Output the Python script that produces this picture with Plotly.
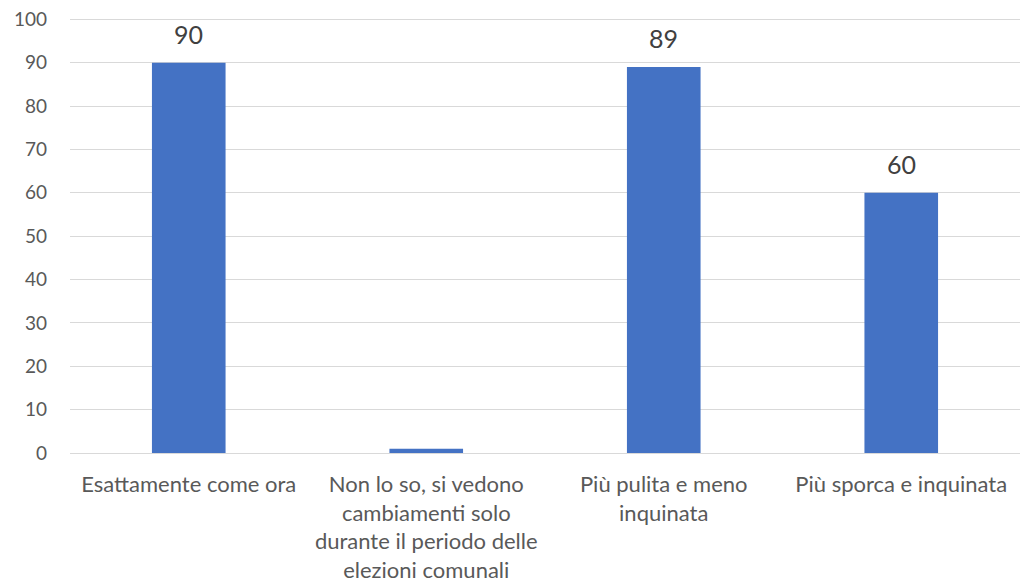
import plotly.graph_objects as go

categories = [
    "Esattamente come ora",
    "Non lo so, si vedono<br>cambiamenti solo<br>durante il periodo delle<br>elezioni comunali",
    "Più pulita e meno<br>inquinata",
    "Più sporca e inquinata",
]
values = [90, 1, 89, 60]
value_labels = ["90", "", "89", "60"]
y_ticks = [0, 10, 20, 30, 40, 50, 60, 70, 80, 90, 100]

FONT = "Lato, Carlito, Calibri, sans-serif"

xs = list(range(len(categories)))

fig = go.Figure(
    go.Bar(
        x=xs,
        y=values,
        marker=dict(color="#4472C4", line=dict(width=0)),
        width=0.31,
        hoverinfo="x+y",
    )
)

for x, v, lab in zip(xs, values, value_labels):
    if lab:
        fig.add_annotation(
            x=x, y=v, xref="x", yref="y",
            text=lab, showarrow=False,
            yanchor="middle", yshift=29,
            font=dict(size=25, color="#404040", family=FONT),
        )

fig.update_layout(
    width=1020,
    height=584,
    margin=dict(l=70, r=0, t=18, b=131, autoexpand=False),
    paper_bgcolor="white",
    plot_bgcolor="white",
    showlegend=False,
    font=dict(family=FONT, color="#595959"),
)
fig.update_xaxes(
    tickmode="array",
    tickvals=xs,
    ticktext=categories,
    range=[-0.5, len(categories) - 0.5],
    tickfont=dict(size=22, color="#595959", family=FONT),
    showgrid=False,
    showline=False,
    ticks="",
    ticklabelstandoff=16,
    ticklabeloverflow="allow",
    automargin=False,
)
fig.update_yaxes(
    range=[0, 100.3],
    tickmode="array",
    tickvals=y_ticks,
    tickfont=dict(size=19, color="#595959", family=FONT),
    showgrid=True,
    gridcolor="#d9d9d9",
    gridwidth=1.3,
    zeroline=True,
    zerolinecolor="#d9d9d9",
    zerolinewidth=1.3,
    ticks="",
    ticklabelstandoff=22,
    ticklabeloverflow="allow",
    automargin=False,
)

# remove the default 8px page margin so the figure fills the window exactly
fig.write_html(
    "out.html",
    config={"displayModeBar": False},
    post_script="document.body.style.margin='0px';",
)
